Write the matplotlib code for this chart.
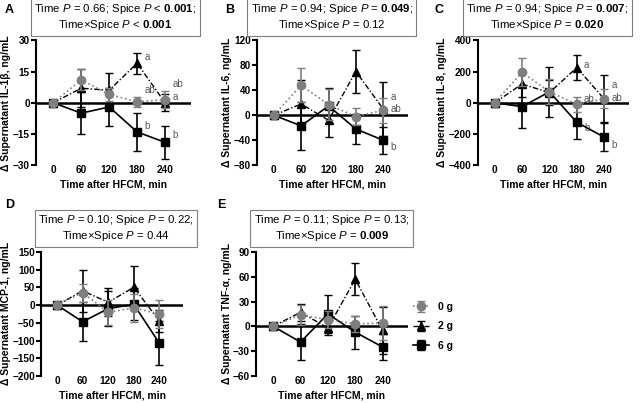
import matplotlib
matplotlib.use("Agg")
import matplotlib.pyplot as plt

plt.rcParams["font.family"] = ["Liberation Sans", "DejaVu Sans"]
plt.rcParams["mathtext.fontset"] = "custom"
plt.rcParams["mathtext.rm"] = "Liberation Sans"
plt.rcParams["mathtext.it"] = "Liberation Sans:italic"
plt.rcParams["mathtext.bf"] = "Liberation Sans:bold"

# tiempos de muestreo
tiempos = [0, 60, 120, 180, 240]

# A: IL-1b
il1b_0g = [0, 11, 4, 0.5, 1.5]
il1b_0g_err = [0, 5, 3, 2.5, 4]
il1b_2g = [0, 7, 6, 19, 0]
il1b_2g_err = [0, 9, 8.5, 5, 4]
il1b_6g = [0, -5, -2, -14, -19]
il1b_6g_err = [0, 10, 9, 9, 8]

# B: IL-6
il6_0g = [0, 48, 17, -2, 8]
il6_0g_err = [0, 27, 25, 14, 20]
il6_2g = [0, 18, -8, 70, 10]
il6_2g_err = [0, 38, 27, 35, 44]
il6_6g = [0, -17, 15, -22, -40]
il6_6g_err = [0, 38, 28, 24, 22]

# C: IL-8
il8_0g = [0, 195, 70, -10, 25]
il8_0g_err = [0, 90, 80, 50, 60]
il8_2g = [0, 120, 65, 225, 25]
il8_2g_err = [0, 80, 80, 80, 150]
il8_6g = [0, -25, 70, -125, -220]
il8_6g_err = [0, 135, 160, 105, 90]

# D: MCP-1
mcp1_0g = [0, 35, -20, -8, -25]
mcp1_0g_err = [0, 25, 35, 40, 40]
mcp1_2g = [0, 40, 8, 50, -45]
mcp1_2g_err = [0, 60, 40, 60, 30]
mcp1_6g = [0, -47, -10, 2, -108]
mcp1_6g_err = [0, 55, 50, 45, 62]

# E: TNF-a
tnf_0g = [0, 14, 8, 3, 4]
tnf_0g_err = [0, 12, 10, 10, 20]
tnf_2g = [0, 17, -2, 57, -5]
tnf_2g_err = [0, 10, 8, 19, 28]
tnf_6g = [0, -19, 15, -7, -25]
tnf_6g_err = [0, 22, 23, 20, 16]

paneles = [
    dict(letra="A", rect=[0.056, 0.59, 0.24, 0.31], ylim=(-30, 30), yt=[-30, -15, 0, 15, 30],
         ylab="Δ Supernatant IL-1β, ng/mL",
         s0=(il1b_0g, il1b_0g_err), s2=(il1b_2g, il1b_2g_err), s6=(il1b_6g, il1b_6g_err),
         titulo="Time $\\it{P}$ = 0.66; Spice $\\it{P}$ < $\\bf{0.001}$;\nTime×Spice $\\it{P}$ < $\\bf{0.001}$",
         tpos=(0.179, 0.957), lpos=(0.008, 0.99),
         letras=[(180, 22, "a"), (180, 6, "ab"), (180, -11, "b"), (240, 9, "ab"), (240, 3, "a"), (240, -15.5, "b")]),
    dict(letra="B", rect=[0.399, 0.59, 0.235, 0.31], ylim=(-80, 120), yt=[-80, -40, 0, 40, 80, 120],
         ylab="Δ Supernatant IL-6, ng/mL",
         s0=(il6_0g, il6_0g_err), s2=(il6_2g, il6_2g_err), s6=(il6_6g, il6_6g_err),
         titulo="Time $\\it{P}$ = 0.94; Spice $\\it{P}$ = $\\bf{0.049}$;\nTime×Spice $\\it{P}$ = 0.12",
         tpos=(0.515, 0.957), lpos=(0.35, 0.99),
         letras=[(240, 29, "a"), (240, 10, "ab"), (240, -51, "b")]),
    dict(letra="C", rect=[0.742, 0.59, 0.235, 0.31], ylim=(-400, 400), yt=[-400, -200, 0, 200, 400],
         ylab="Δ Supernatant IL-8, ng/mL",
         s0=(il8_0g, il8_0g_err), s2=(il8_2g, il8_2g_err), s6=(il8_6g, il8_6g_err),
         titulo="Time $\\it{P}$ = 0.94; Spice $\\it{P}$ = $\\bf{0.007}$;\nTime×Spice $\\it{P}$ = $\\bf{0.020}$",
         tpos=(0.85, 0.957), lpos=(0.674, 0.99),
         letras=[(180, 240, "a"), (180, 25, "ab"), (180, -160, "b"), (240, 112, "a"), (240, 30, "ab"), (240, -270, "b")]),
    dict(letra="D", rect=[0.064, 0.067, 0.22, 0.308], ylim=(-200, 150), yt=[-200, -150, -100, -50, 0, 50, 100, 150],
         ylab="Δ Supernatant MCP-1, ng/mL",
         s0=(mcp1_0g, mcp1_0g_err), s2=(mcp1_2g, mcp1_2g_err), s6=(mcp1_6g, mcp1_6g_err),
         titulo="Time $\\it{P}$ = 0.10; Spice $\\it{P}$ = 0.22;\nTime×Spice $\\it{P}$ = 0.44",
         tpos=(0.18, 0.434), lpos=(0.008, 0.505), letras=[]),
    dict(letra="E", rect=[0.398, 0.067, 0.235, 0.308], ylim=(-60, 90), yt=[-60, -30, 0, 30, 60, 90],
         ylab="Δ Supernatant TNF-α, ng/mL",
         s0=(tnf_0g, tnf_0g_err), s2=(tnf_2g, tnf_2g_err), s6=(tnf_6g, tnf_6g_err),
         titulo="Time $\\it{P}$ = 0.11; Spice $\\it{P}$ = 0.13;\nTime×Spice $\\it{P}$ = $\\bf{0.009}$",
         tpos=(0.515, 0.434), lpos=(0.337, 0.505), letras=[]),
]

gris = "#7f7f7f"
fig = plt.figure(figsize=(6.44, 4.03), dpi=100)

for p in paneles:
    ax = fig.add_axes(p["rect"])
    ax.axhline(0, color="black", lw=1.8, zorder=1)
    m, e = p["s6"]
    ax.errorbar(tiempos, m, yerr=e, color="black", ls="-", lw=1.2, marker="s", ms=6,
                capsize=3, elinewidth=1.2, zorder=3, label="6 g")
    m, e = p["s2"]
    ax.errorbar(tiempos, m, yerr=e, color="black", ls=(0, (4, 1.5, 1, 1.5)), lw=1.0, marker="^", ms=6,
                capsize=3, elinewidth=1.2, zorder=4, label="2 g")
    m, e = p["s0"]
    ax.errorbar(tiempos, m, yerr=e, color=gris, ls=":", lw=1.2, marker="o", ms=6,
                capsize=3, elinewidth=1.2, zorder=5, label="0 g")
    # letras de significancia
    for t, y, s in p["letras"]:
        ax.text(t + 16, y, s, fontsize=7, color="#555555", va="center", ha="left")
    ax.set_xlim(-37, 295)
    ax.set_ylim(*p["ylim"])
    ax.set_yticks(p["yt"])
    ax.set_xticks(tiempos)
    for s in ["top", "right", "bottom"]:
        ax.spines[s].set_visible(False)
    ax.spines["left"].set_linewidth(1.5)
    ax.tick_params(axis="y", width=1.5, length=3.5, labelsize=7.2, pad=1)
    ax.tick_params(axis="x", length=0, labelsize=7.2, pad=0)
    for lab in ax.get_xticklabels() + ax.get_yticklabels():
        lab.set_fontweight("bold")
    ax.set_xlabel("Time after HFCM, min", fontsize=7.5, fontweight="bold", labelpad=3)
    ax.set_ylabel(p["ylab"], fontsize=7.5, fontweight="bold", labelpad=1)
    fig.text(p["tpos"][0], p["tpos"][1], p["titulo"], ha="center", va="center", fontsize=8.2,
             linespacing=1.2,
             bbox=dict(boxstyle="square,pad=0.3", facecolor="white", edgecolor=gris, lw=0.8))
    fig.text(p["lpos"][0], p["lpos"][1], p["letra"], fontsize=9, fontweight="bold", va="top")
    ultimo = ax

# leyenda aparte
h, l = ultimo.get_legend_handles_labels()
fig.legend(h[::-1], l[::-1], loc="center left", bbox_to_anchor=(0.641, 0.19), frameon=False,
           prop=dict(size=7.5, weight="bold"), handlelength=1.6, labelspacing=0.9,
           borderpad=0, borderaxespad=0, handletextpad=0.8)

fig.savefig("out.png", dpi=100)
